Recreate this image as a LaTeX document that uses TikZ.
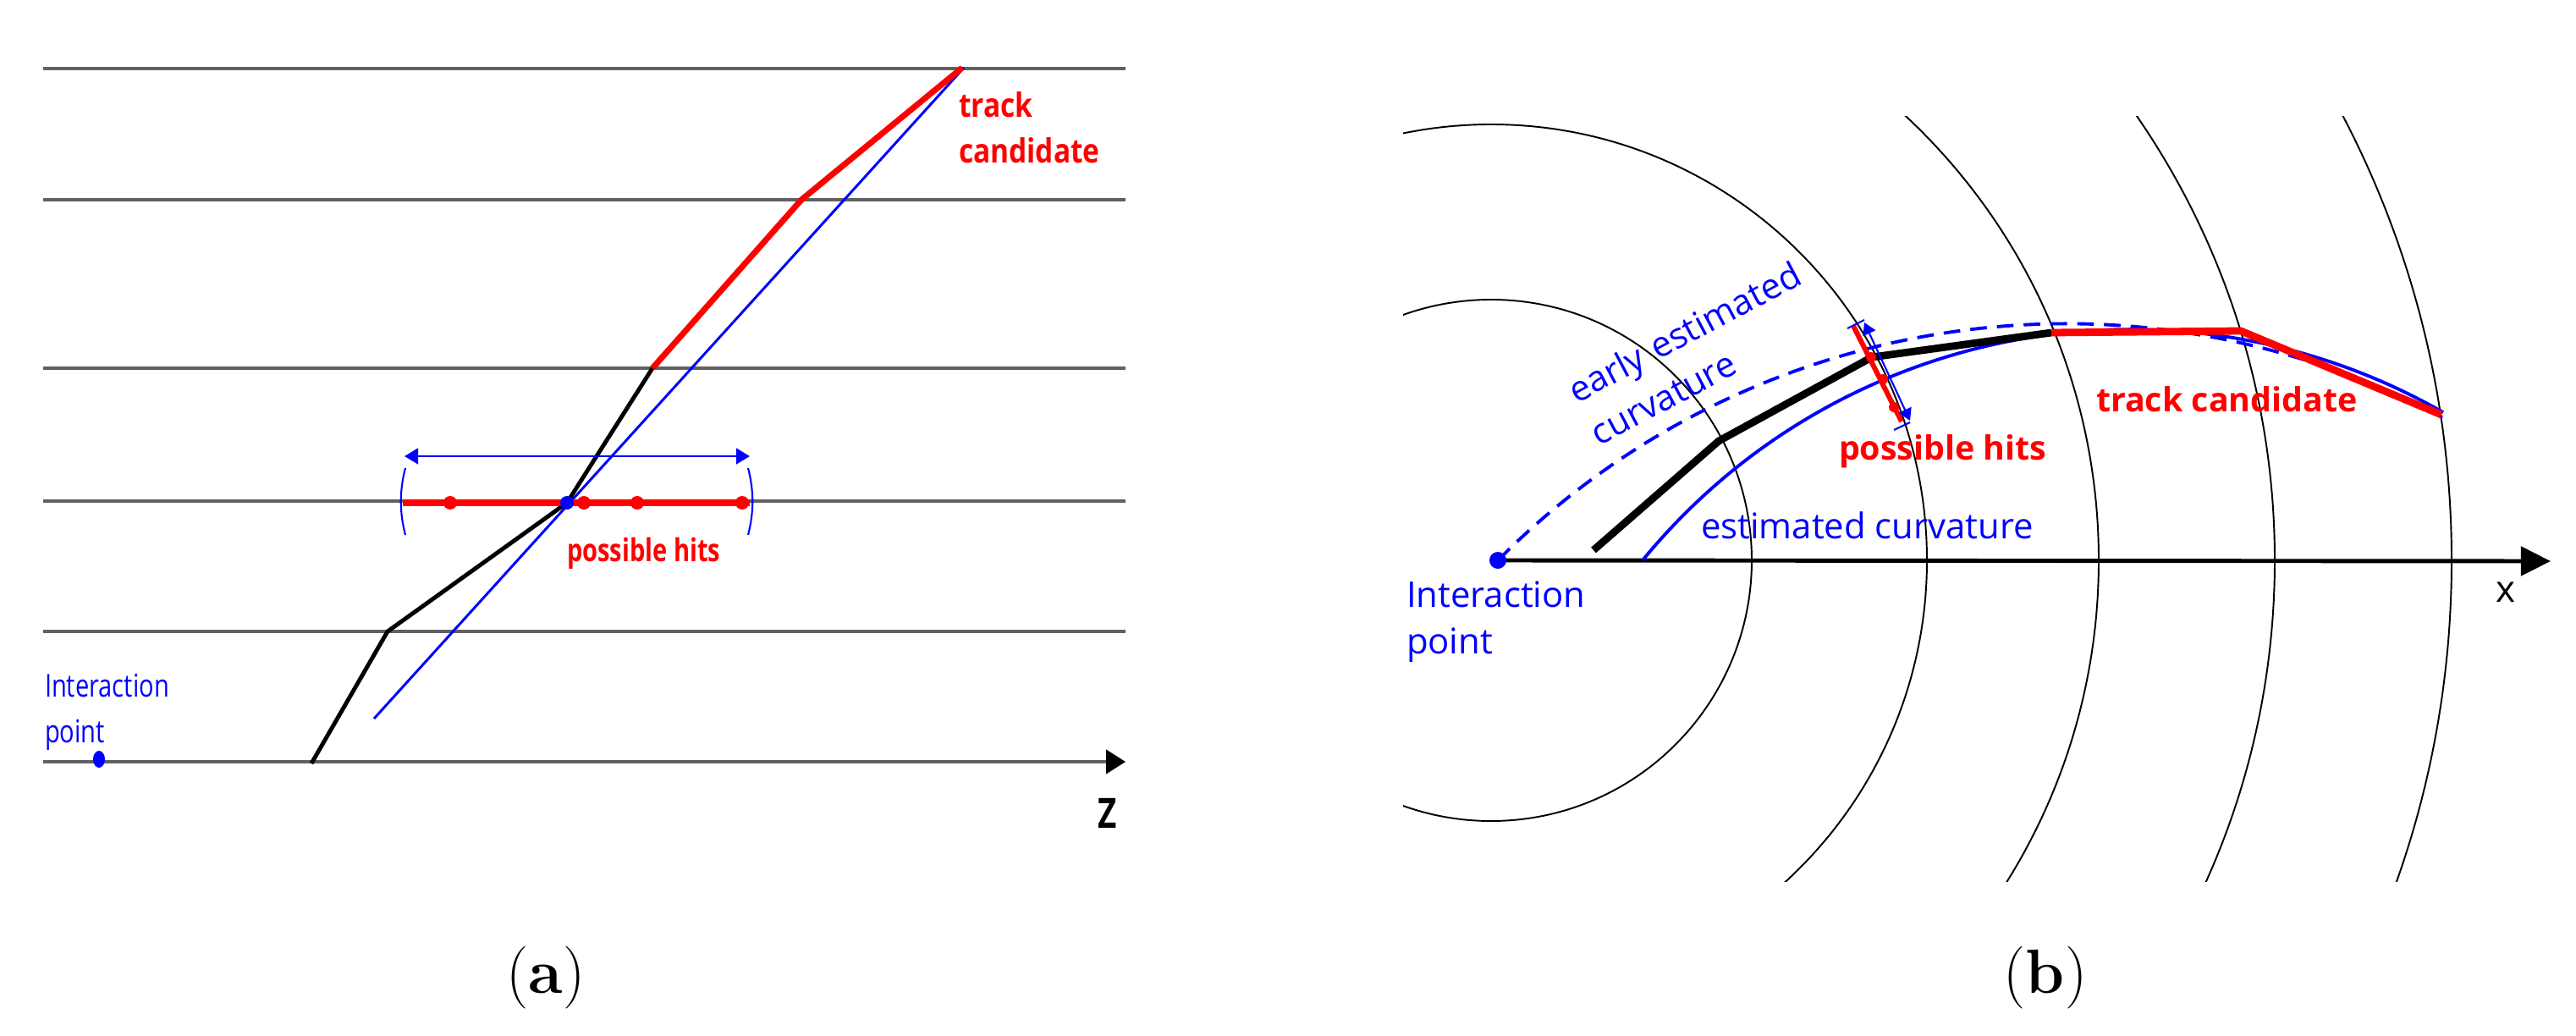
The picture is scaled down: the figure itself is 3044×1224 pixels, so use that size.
\documentclass[tikz,border=0pt]{standalone}
\usepackage{fontspec}
\usetikzlibrary{arrows.meta}
\newfontfamily\osA[FakeStretch=0.78]{Open Sans}
\newfontfamily\osAw[FakeStretch=0.85]{Open Sans}
\newfontfamily\osB{Open Sans}
\definecolor{pred}{RGB}{255,0,0}
\definecolor{pblue}{RGB}{0,0,255}
\tikzset{
  layer/.style={black!62, line width=1pt},
  trkblack/.style={black, line width=1.4pt, line join=round},
  trkred/.style={pred, line width=2pt, line join=round},
  fitblue/.style={pblue, line width=0.85pt},
  hitline/.style={pred, line width=2.3pt},
  hitdot/.style={pred, fill=pred},
  winarrow/.style={pblue, line width=0.6pt, {Triangle[length=4.6pt,width=5.4pt]}-{Triangle[length=4.6pt,width=5.4pt]}},
  paren/.style={pblue, line width=0.6pt},
  ring/.style={black, line width=0.55pt},
  trkblackB/.style={black, line width=2.5pt, line join=round},
  trkredB/.style={pred, line width=2.5pt, line join=round},
  fitblueB/.style={pblue, line width=1.1pt},
  earlyB/.style={pblue, line width=1.1pt, dash pattern=on 5.6pt off 3.4pt},
  txt/.style={inner sep=0pt, outer sep=0pt, anchor=base west},
  fA/.style={font={\osA\fontsize{10.6}{15.6}\selectfont}},
  fAb/.style={font={\osA\bfseries\fontsize{10.6}{15.6}\selectfont}},
  fAbw/.style={font={\osAw\bfseries\fontsize{11.2}{15.6}\selectfont}},
  fB/.style={font={\osB\fontsize{11.9}{15.9}\selectfont}},
  fBr/.style={font={\osB\fontsize{11.9}{16.2}\selectfont}},
  fBb/.style={font={\osB\bfseries\fontsize{11.2}{13}\selectfont}},
  capt/.style={inner sep=0pt, anchor=base, font={\fontsize{21}{25}\selectfont}},
}
\begin{document}
\begin{tikzpicture}[x=0.01cm,y=0.01cm]
\useasboundingbox (0,0) rectangle (3044,-1224);

% ================= panel (a) =================
\foreach \yy [count=\i] in {81,236,435,592,746}{
  \coordinate (L\i a) at (51,-\yy);
  \coordinate (L\i b) at (1330,-\yy);
  \draw[layer] (L\i a) -- (L\i b);
}
\coordinate (axA0) at (51,-900);
\coordinate (axA1) at (1330,-900);
\draw[layer, -{Triangle[length=6.5pt,width=8pt,color=black]}] (axA0) -- (axA1);

% tracks
\coordinate (a0) at (368,-902);
\coordinate (a1) at (458,-746);
\coordinate (a2) at (670,-594);
\coordinate (a3) at (771,-435);
\coordinate (a4) at (947,-236);
\coordinate (a5) at (1137,-80);
\coordinate (bl0) at (442,-849);
\coordinate (bl1) at (1139,-80);
\draw[fitblue] (bl0) -- (bl1);
\draw[trkblack] (a0) -- (a1) -- (a2) -- (a3);
\draw[trkred] (a3) -- (a4) -- (a5);

% possible hits window
\coordinate (h0) at (476,-594);
\coordinate (h1) at (886,-594);
\draw[hitline] (h0) -- (h1);
\foreach \xx in {532,690,753,877} \fill[hitdot] (\xx,-594) circle[radius=8];
\fill[pblue] (a2) circle[radius=8];
\coordinate (wa0) at (478,-539);
\coordinate (wa1) at (886,-539);
\draw[winarrow] (wa0) -- (wa1);
\coordinate (p0) at (479,-553);
\coordinate (p1) at (479,-632);
\coordinate (q0) at (884,-553);
\coordinate (q1) at (884,-632);
\draw[paren] (p0) .. controls (472,-580) and (472,-605) .. (p1);
\draw[paren] (q0) .. controls (891,-580) and (891,-605) .. (q1);

% interaction point (a)
\coordinate (ipA) at (117,-897);
\fill[pblue] (ipA) ellipse[x radius=7, y radius=10];

% labels (a)
\node[txt, fAbw, text=pred, text width=200, align=left] (tcA) at (1133,-138) {track\\candidate};
\node[txt, fAb, text=pred] (phA) at (670,-663) {possible hits};
\node[txt, fA, text=pblue, text width=200, align=left] (ipAl) at (53,-823) {Interaction\\point};
\node[inner sep=0pt, anchor=base, font={\osA\bfseries\fontsize{14}{16}\selectfont}] (zlab) at (1309,-978) {Z};
\node[capt] (capA) at (645,-1173) {(\textbf{a})};

% ================= panel (b) =================
\coordinate (C) at (1762,-662);
\begin{scope}
  \clip (1658,-137) rectangle (3044,-1041);
  \foreach \r in {308,515,718,926,1135} \draw[ring] (C) circle[radius=\r];
\end{scope}

\coordinate (ipB) at (1770,-662);
\coordinate (axB1) at (3014,-663);
\draw[black, line width=1.4pt, -{Triangle[length=10pt,width=9.7pt]}] (ipB) -- (axB1);

% early estimated curvature (dashed)
\draw[earlyB] (ipB) arc[start angle=135.2, end angle=62, radius=946.5];
% estimated curvature (solid)
\coordinate (ecs) at (1941.3,-661.6);
\draw[fitblueB] (ecs) arc[start angle=140.6, end angle=60.3, radius=745.8];

% track
\coordinate (b0) at (1883,-650);
\coordinate (b1) at (2031,-521);
\coordinate (b2) at (2212,-422);
\coordinate (b3) at (2424,-393);
\coordinate (b4) at (2648,-391);
\coordinate (b5) at (2885,-490);
\draw[trkblackB] (b0) -- (b1) -- (b2) -- (b3);
\draw[trkredB] (b3) -- (b4) -- (b5);

% possible hits window (b)
\coordinate (hb0) at (2190,-385);
\coordinate (hb1) at (2247,-498);
\draw[pred, line width=1.7pt] (hb0) -- (hb1);
\foreach \pp in {(2211,-422),(2225,-448),(2238,-481)} \fill[hitdot] \pp circle[radius=6];
\coordinate (wb0) at (2203,-381);
\coordinate (wb1) at (2257,-497);
\draw[pblue, line width=0.6pt, {Triangle[length=4pt,width=4.6pt]}-{Triangle[length=4pt,width=4.6pt]}] (wb0) -- (wb1);
\coordinate (tb0) at (2183,-388);
\coordinate (tb1) at (2203,-378);
\coordinate (tb2) at (2238,-508);
\coordinate (tb3) at (2257,-499);
\draw[paren] (tb0) -- (tb1);
\draw[paren] (tb2) -- (tb3);

\fill[pblue] (ipB) circle[radius=10];

% labels (b)
\node[txt, fB, text=pblue, text width=260, align=left] (ipBl) at (1662,-717) {Interaction\\point};
\node[inner sep=0pt, anchor=base, font={\osB\fontsize{12.5}{14}\selectfont}] (xlab) at (2961,-711) {x};
\node[txt, fB, text=pblue] (ecl) at (2010,-636) {estimated curvature};
\node[txt, fBb, text=pred] (tcB) at (2477,-486) {track candidate};
\node[txt, fBb, text=pred] (phB) at (2173,-543) {possible hits};
\node[txt, fBr, text=pblue, rotate=28, text width=320, align=left] (eec) at (1863,-477) {early estimated\\curvature};
\node[capt] (capB) at (2417,-1173) {(\textbf{b})};
\end{tikzpicture}
\end{document}
